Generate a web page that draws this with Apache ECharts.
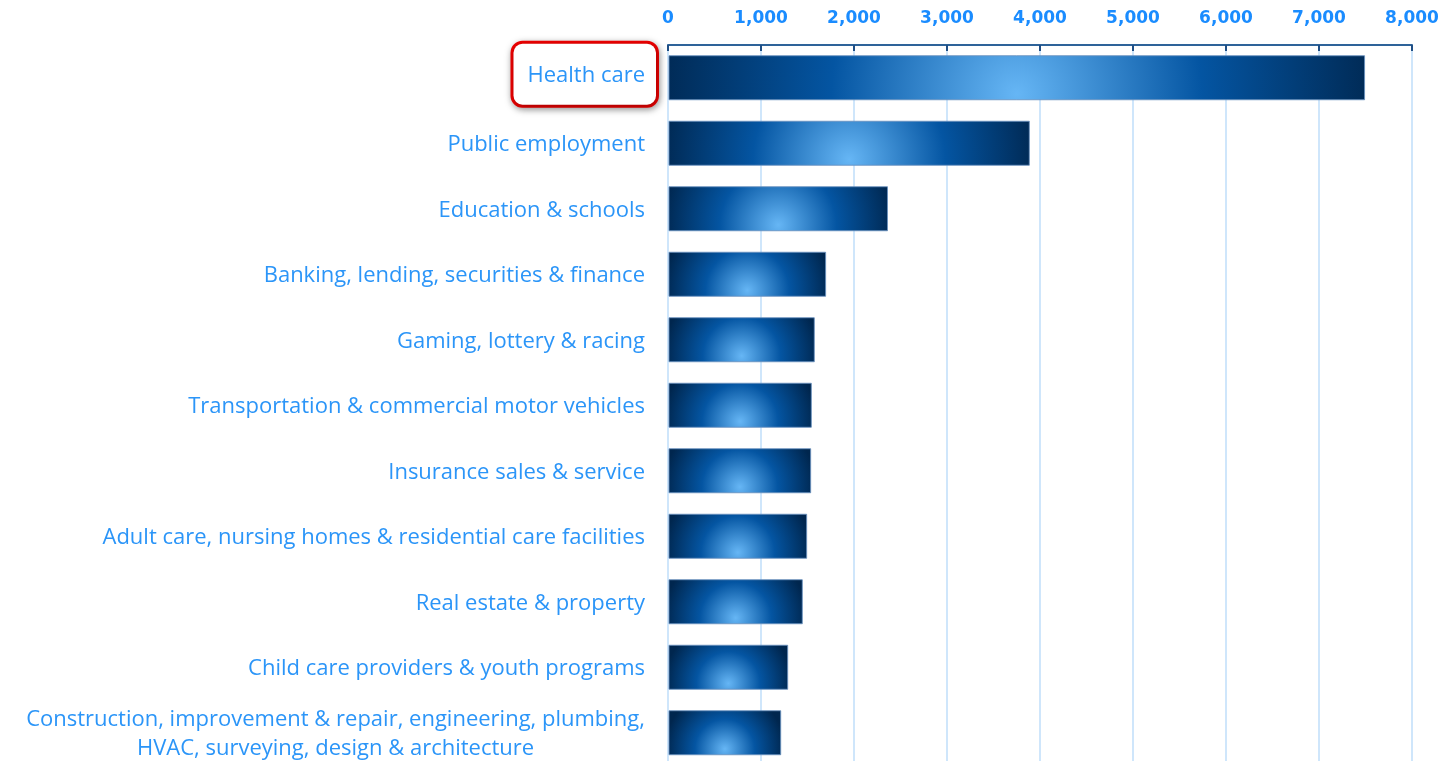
<!DOCTYPE html>
<html>
<head>
<meta charset="utf-8">
<script src="https://cdn.jsdelivr.net/npm/echarts@6/dist/echarts.min.js"></script>
<style>
html,body{margin:0;padding:0;background:#fff;}
#main{width:1442px;height:761px;}
</style>
</head>
<body>
<div id="main"></div>
<script>
const categories = [
  'Health care',
  'Public employment',
  'Education & schools',
  'Banking, lending, securities & finance',
  'Gaming, lottery & racing',
  'Transportation & commercial motor vehicles',
  'Insurance sales & service',
  'Adult care, nursing homes & residential care facilities',
  'Real estate & property',
  'Child care providers & youth programs',
  'Construction, improvement & repair, engineering, plumbing,\nHVAC, surveying, design & architecture'
];
const values = [7490, 3885, 2360, 1695, 1573, 1541, 1534, 1491, 1444, 1287, 1212];
const axisMin = 0;
const axisMax = 8000;
const axisStep = 1000;
const highlighted = 'Health care';

const chart = echarts.init(document.getElementById('main'), null, {renderer: 'canvas'});

function renderItem(params, api) {
  const v = api.value(0);
  const c = api.value(1);
  const p0 = api.coord([0, c]);
  const p1 = api.coord([v, c]);
  const band = api.size([0, 1])[1];
  const h = band * 0.672;
  const w = p1[0] - p0[0];
  const grad = new echarts.graphic.RadialGradient(0.5, 0.86, 0.52 * w / h, [
    {offset: 0, color: '#66b6f5'},
    {offset: 0.5, color: '#0455a2'},
    {offset: 1, color: '#00264e'}
  ]);
  return {
    type: 'rect',
    shape: {x: p0[0] + 1, y: p0[1] - h / 2, width: w - 1, height: h},
    style: {fill: grad, stroke: 'rgba(105,145,190,0.85)', lineWidth: 1}
  };
}

const option = {
  backgroundColor: '#ffffff',
  animation: false,
  grid: {left: 668, right: 30, top: 45, height: 720.5, outerBoundsMode: 'none', containLabel: false},
  xAxis: {
    type: 'value',
    position: 'top',
    min: axisMin,
    max: axisMax,
    interval: axisStep,
    axisLine: {show: true, lineStyle: {color: '#2e6399', width: 2}},
    axisTick: {show: true, inside: true, length: 6, lineStyle: {color: '#1f4f86', width: 2}},
    axisLabel: {
      color: '#1a8cff',
      fontFamily: 'DejaVu Sans',
      fontWeight: 'bold',
      fontSize: 17,
      margin: 18
    },
    splitLine: {show: true, lineStyle: {color: '#cfe6fb', width: 2}}
  },
  yAxis: {
    type: 'category',
    inverse: true,
    data: categories.map(function (c) {
      return c === highlighted ? {value: c, textStyle: {padding: [0, 0, 7, 0]}} : c;
    }),
    axisLine: {show: true, lineStyle: {color: '#cfe6fb', width: 2}},
    axisTick: {show: false},
    splitLine: {show: false},
    axisLabel: {
      margin: 12,
      interval: 0,
      formatter: function (val) {
        if (val === highlighted) return '{hl|' + val + '}';
        return val.split('\n').map(function (s) { return '{c|' + s + '}'; }).join('\n');
      },
      rich: {
        c: {
          color: '#2b95f8',
          fontFamily: 'Open Sans',
          fontSize: 22,
          lineHeight: 29,
          align: 'center',
          padding: [3, 11, 0, 0]
        },
        hl: {
          color: '#2b95f8',
          fontFamily: 'Open Sans',
          fontSize: 22,
          lineHeight: 26,
          padding: [21, 11, 18, 14],
          backgroundColor: '#ffffff',
          borderColor: '#f00000',
          borderWidth: 3,
          borderRadius: 9,
          shadowBlur: 7,
          shadowColor: 'rgba(0,0,0,0.35)',
          shadowOffsetX: 1,
          shadowOffsetY: 2
        }
      }
    }
  },
  series: [{
    type: 'custom',
    renderItem: renderItem,
    encode: {x: 0, y: 1},
    data: values.map(function (v, i) { return [v, i]; }),
    z: 3
  }]
};
chart.setOption(option);
</script>
</body>
</html>
